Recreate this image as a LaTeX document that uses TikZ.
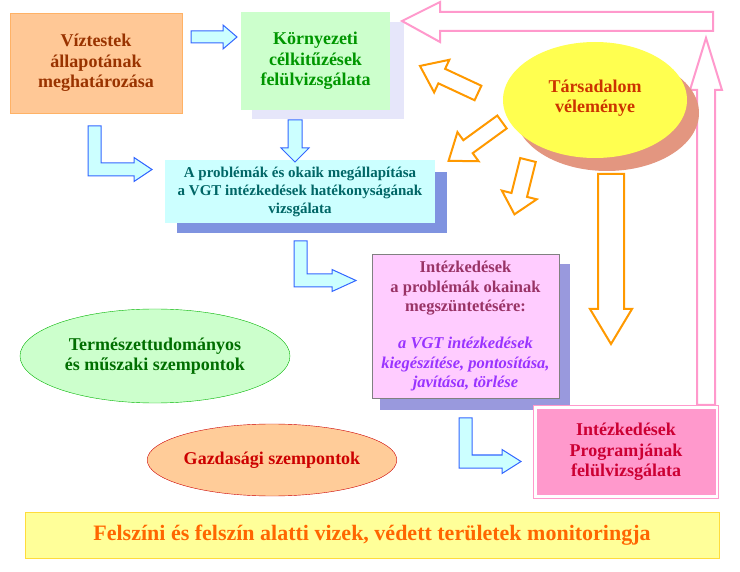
\documentclass[tikz,border=0pt]{standalone}
\usepackage{fontspec}
\usetikzlibrary{shapes.geometric}
\setmainfont{Liberation Serif}
\definecolor{cyanf}{HTML}{CCFFFF}
\definecolor{bluel}{HTML}{3366FF}
\definecolor{orl}{HTML}{FF9900}
\definecolor{pinkl}{HTML}{FF99CC}
\definecolor{peach}{RGB}{255,200,150}
\definecolor{brownt}{RGB}{153,51,0}
\definecolor{lav}{RGB}{230,230,250}
\definecolor{lgreen}{RGB}{204,255,204}
\definecolor{greent}{RGB}{0,150,0}
\definecolor{salmon}{RGB}{227,150,128}
\definecolor{yel}{RGB}{255,255,80}
\definecolor{redor}{RGB}{204,51,0}
\definecolor{shad3}{RGB}{127,147,224}
\definecolor{teal3}{RGB}{0,102,102}
\definecolor{shad4}{RGB}{153,153,221}
\definecolor{pinkf}{RGB}{255,204,255}
\definecolor{plum}{RGB}{153,51,102}
\definecolor{purp}{RGB}{153,51,255}
\definecolor{red5}{RGB}{204,0,51}
\definecolor{gdraw}{RGB}{0,180,0}
\definecolor{gtext}{RGB}{0,110,0}
\definecolor{rdraw}{RGB}{204,0,0}
\definecolor{orf}{RGB}{255,204,153}
\definecolor{bard}{RGB}{255,220,60}
\definecolor{barf}{RGB}{255,255,153}
\definecolor{bart}{RGB}{255,102,0}
\tikzset{
 ba/.style={draw=bluel,fill=cyanf,line width=1pt,line join=miter},
 oa/.style={draw=orl,fill=white,line width=2pt,line join=miter},
 pa/.style={draw=pinkl,fill=white,line width=2pt,line join=miter},
 txt/.style={font=\bfseries\fontsize{18}{20.5}\selectfont,align=center},
}
\newcommand\blkarrow[5][]{% style, L, b, h, k
 \path[#1] (0,-#3)--(#2-#5,-#3)--(#2-#5,-#4)--(#2,0)--(#2-#5,#4)--(#2-#5,#3)--(0,#3)--cycle;}
\newcommand\larrow[7]{% x0,y0,w,yb,xh,xe,h
 \path[ba] (#1,#2)--(#1+#3,#2)--(#1+#3,#4-#3)--(#5,#4-#3)--(#5,#4-#3/2-#7)--(#6,#4-#3/2)--(#5,#4-#3/2+#7)--(#5,#4)--(#1,#4)--cycle;}
\begin{document}
\begin{tikzpicture}[x=1pt,y=-1pt]
\useasboundingbox (0,0) rectangle (740,572);
% box1
\node[draw=orange!60,fill=peach,minimum width=172,minimum height=100,txt,text=brownt] (b1) at (96,63) {Víztestek\\állapotának\\meghatározása};
% box2
\fill[lav] (252,22) rectangle (404,119);
\node[fill=lgreen,minimum width=149,minimum height=98,txt,text=greent] (b2) at (315.5,61) {Környezeti\\célkitűzések\\felülvizsgálata};
% arrow b1->b2
\begin{scope}[shift={(191,37)}]\blkarrow[ba]{46}{6}{12}{14}\end{scope}
% pink feedback
\path[pa] (713,31)--(440,31)--(440,42)--(402,21)--(440,2)--(440,12)--(713,12)--cycle;
\path[pa] (697,405)--(697,90)--(690,90)--(706,38)--(722,90)--(715,90)--(715,405)--cycle;
% society ellipse
\fill[salmon] (607,113) ellipse [x radius=92,y radius=58];
\fill[yel] (595,100) ellipse [x radius=92,y radius=58];
\node[txt,text=redor] (soc) at (595,98) {Társadalom\\véleménye};
% orange arrows
\begin{scope}[shift={(478,93)},rotate=155]\blkarrow[oa]{64}{8}{18}{24}\end{scope}
\begin{scope}[shift={(502,122)},rotate=-144]\blkarrow[oa]{66}{8}{18}{24}\end{scope}
\begin{scope}[shift={(528,160)},rotate=-104]\blkarrow[oa]{56}{8}{18}{20}\end{scope}
\begin{scope}[shift={(611,174)},rotate=-90]\blkarrow[oa]{170}{13}{21}{35}\end{scope}
% box3
\fill[shad3] (177,172) rectangle (447,233);
\node[fill=cyanf,minimum width=270,minimum height=63,align=center,font=\bfseries\fontsize{15}{18}\selectfont,text=teal3] (b3) at (300,191.5) {A problémák és okaik megállapítása\\a VGT intézkedések hatékonyságának\\vizsgálata};
\begin{scope}[shift={(295,120)},rotate=-90]\blkarrow[ba]{42}{7}{14}{14}\end{scope}
\larrow{88}{126}{13}{176}{134}{152}{12}
\larrow{294}{241}{13}{287}{332}{356}{11}
% box4
\fill[shad4] (380,264) rectangle (570,410);
\node[draw=gray,line width=1pt,fill=pinkf,minimum width=187,minimum height=144] (b4) at (465.5,327) {};
\node[align=center,font=\bfseries\fontsize{16.5}{19.5}\selectfont,text=plum,anchor=north] (b4t) at (465.5,258) {Intézkedések\\a problémák okainak\\megszüntetésére:};
\node[align=center,font=\bfseries\itshape\fontsize{16.5}{19.5}\selectfont,text=purp,anchor=north] (b4i) at (465.5,334) {a VGT intézkedések\\kiegészítése, pontosítása,\\javítása, törlése};
\larrow{459}{418}{13}{468}{502}{521}{12}
% box5
\node[draw=pinkl,line width=1pt,fill=white,minimum width=185,minimum height=92] (b5o) at (626,452) {};
\node[fill=pinkl,minimum width=179,minimum height=86,txt,text=red5] (b5) at (626,452) {Intézkedések\\Programjának\\felülvizsgálata};
% ellipses
\node[draw=gdraw,fill=lgreen,ellipse,minimum width=270,minimum height=94,txt,text=gtext,inner sep=0] (e1) at (155,356) {Természettudományos\\és műszaki szempontok};
\node[draw=rdraw,fill=orf,ellipse,minimum width=236,minimum height=72,txt,text=rdraw,inner sep=0] (e2) at (272,460) {Gazdasági szempontok};
% bottom bar
\node[draw=bard,line width=1pt,fill=barf,minimum width=694,minimum height=46,font=\bfseries\fontsize{22}{24}\selectfont,text=bart] (bar) at (372,535) {Felszíni és felszín alatti vizek, védett területek monitoringja};
\end{tikzpicture}
\end{document}
